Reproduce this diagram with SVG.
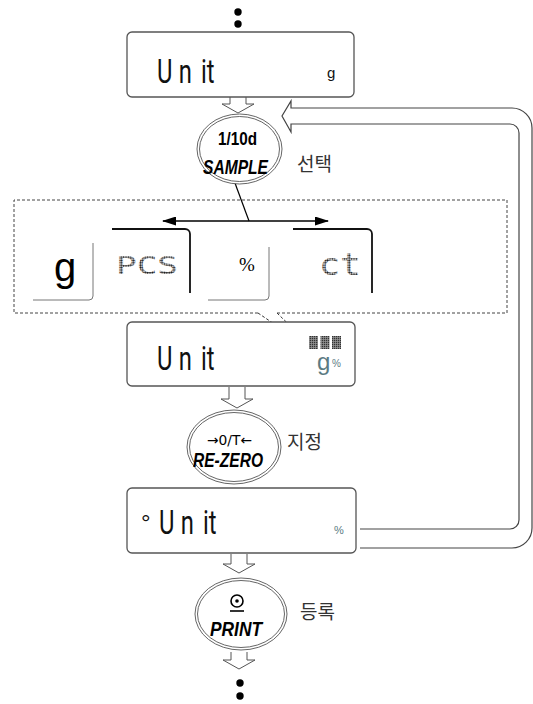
<svg xmlns="http://www.w3.org/2000/svg" width="533" height="704" viewBox="0 0 533 704">
<style>
.disp{fill:#fff;stroke:#555;stroke-width:1.3}
.seg{font-family:Roboto,"Liberation Sans",Arial,sans-serif;font-weight:400;font-size:34px;fill:#111}
.teal{font-family:"Liberation Sans",Arial,sans-serif;fill:#5b7b83}
.ell{fill:#fff;stroke:#555;stroke-width:0.9}
.ell2{fill:none;stroke:#555;stroke-width:0.9}
.btn{font-family:"Liberation Sans",Arial,sans-serif;font-weight:bold;fill:#000;text-anchor:middle}
.kr{font-family:"Noto Sans CJK KR","Noto Sans CJK SC",sans-serif;font-size:19px;fill:#333}
.harrow{fill:#fff;stroke:#555;stroke-width:1}
.dot{fill:#000}
.cardg{fill:none;stroke:#777;stroke-width:1}
.cardk{fill:none;stroke:#111;stroke-width:1.8}
.dm{font-family:"DejaVu Sans Mono","Liberation Mono",monospace;font-weight:normal;fill:url(#dots)}
</style>
<defs>
<pattern id="dots" patternUnits="userSpaceOnUse" width="2.4" height="2.4">
<circle cx="1.2" cy="1.2" r="1" fill="#111"/>
</pattern>
<pattern id="grid" patternUnits="userSpaceOnUse" width="2" height="2">
<rect width="2" height="2" fill="#999"/>
<rect width="1.3" height="1.3" fill="#333"/>
</pattern>
<marker id="ah" markerUnits="userSpaceOnUse" markerWidth="14" markerHeight="9" refX="13" refY="4.5" orient="auto-start-reverse">
<path d="M0,0 L14,4.5 L0,9 z" fill="#000"/>
</marker>
</defs>

<g id="dots-top">
<circle class="dot" cx="238" cy="12" r="3.7"/>
<circle class="dot" cx="238" cy="24" r="3.7"/>
</g>

<g id="connectors">
<path d="M360,548 H512 A20,20 0 0 0 532,528 V128 A20,20 0 0 0 512,108 H291 V101 L282,116 L291,132 V124 H510 A9,9 0 0 1 519,133 V520 A9,9 0 0 1 510,529 H360" fill="none" stroke="#444" stroke-width="1.2"/>
<path class="harrow" d="M230,97 V104 H222 L238,113 L254,104 H246 V97"/>
<path class="harrow" d="M229,387 V399 H221 L237,408 L253,399 H245 V387"/>
<path class="harrow" d="M231,554 V564 H223 L239,573 L255,564 H247 V554"/>
<path class="harrow" d="M231,652 V660 H223 L239,669 L255,660 H247 V652"/>
<line x1="163" y1="221" x2="328" y2="221" stroke="#000" stroke-width="1.5" marker-start="url(#ah)" marker-end="url(#ah)"/>
<line x1="232" y1="175" x2="249" y2="221" stroke="#000" stroke-width="1.2"/>
<line x1="258" y1="313" x2="308" y2="347" stroke="#333" stroke-width="1" stroke-dasharray="3,2"/>
<line x1="277" y1="313" x2="308" y2="343" stroke="#333" stroke-width="1" stroke-dasharray="3,2"/>
</g>

<g id="display-unit-g">
<rect class="disp" x="127" y="32" width="227" height="65" rx="5"/>
<text class="seg" transform="translate(157,83) scale(0.7,1)" x="0 31 63 71" y="0">Unit</text>
<text x="327" y="78" style="font-family:'Liberation Sans',Arial,sans-serif;font-size:15px;fill:#111">g</text>
</g>

<g id="btn-sample">
<ellipse class="ell" cx="239.5" cy="149" rx="42.5" ry="35"/>
<ellipse class="ell2" cx="239.5" cy="149" rx="40" ry="32.5"/>
<text class="btn" x="237.5" y="145" font-size="18" textLength="39" lengthAdjust="spacingAndGlyphs">1/10d</text>
<text class="btn" x="235.5" y="174" font-size="21" font-style="italic" textLength="65" lengthAdjust="spacingAndGlyphs">SAMPLE</text>
<text class="kr" x="297" y="171">선택</text>
</g>

<g id="unit-options">
<path d="M258,313 H14 V200 H507 V313 H277" fill="none" stroke="#444" stroke-width="1" stroke-dasharray="3,2"/>
<g id="opt-g">
<path class="cardg" d="M33,300 H89 A4,4 0 0 0 93,296 V243"/>
<text x="54" y="281" style="font-family:'Liberation Sans',Arial,sans-serif;font-size:40px;fill:#000">g</text>
</g>
<g id="opt-pcs">
<path class="cardk" d="M112,229 H185 A5,5 0 0 1 190,234 V293"/>
<text class="dm" x="116" y="274" font-size="24" textLength="62" lengthAdjust="spacingAndGlyphs">PCS</text>
</g>
<g id="opt-pct">
<path class="cardg" d="M208,300 H265 A4,4 0 0 0 269,296 V247"/>
<text x="239" y="271" style="font-family:'Liberation Serif','Times New Roman',serif;font-size:19px;fill:#000">%</text>
</g>
<g id="opt-ct">
<path class="cardk" d="M293,229 H367 A5,5 0 0 1 372,234 V293"/>
<text class="dm" x="319" y="275" font-size="30" textLength="42" lengthAdjust="spacingAndGlyphs">ct</text>
</g>
</g>

<g id="display-unit-sel">
<rect class="disp" x="127" y="322" width="228" height="64" rx="5"/>
<text class="seg" transform="translate(157,370) scale(0.7,1)" x="0 31 63 71" y="0">Unit</text>
<rect x="309" y="336" width="9" height="13" fill="url(#grid)"/>
<rect x="320.5" y="336" width="9" height="13" fill="url(#grid)"/>
<rect x="332" y="336" width="9" height="13" fill="url(#grid)"/>
<text class="teal" x="317" y="370" font-size="24">g</text>
<text class="teal" x="332" y="367" font-size="10">%</text>
</g>

<g id="btn-rezero">
<ellipse class="ell" cx="234" cy="447" rx="47" ry="37"/>
<ellipse class="ell2" cx="234" cy="447" rx="44.5" ry="34.5"/>
<text x="229.5" y="445" text-anchor="middle" style="font-family:'DejaVu Sans','Liberation Sans',sans-serif;font-size:14px;fill:#000" textLength="45" lengthAdjust="spacingAndGlyphs">→0/T←</text>
<text class="btn" x="228" y="467" font-size="20" font-style="italic" textLength="70" lengthAdjust="spacingAndGlyphs">RE-ZERO</text>
<text class="kr" x="287" y="449">지정</text>
</g>

<g id="display-unit-stored">
<rect class="disp" x="127" y="488" width="229" height="65" rx="5"/>
<text x="141" y="531" style="font-family:'Liberation Sans',Arial,sans-serif;font-size:24px;fill:#111">°</text>
<text class="seg" transform="translate(159,534) scale(0.7,1)" x="0 31 63 71" y="0">Unit</text>
<text class="teal" x="334" y="534" font-size="11">%</text>
</g>

<g id="btn-print">
<ellipse class="ell" cx="241" cy="614" rx="46" ry="36"/>
<ellipse class="ell2" cx="241" cy="614" rx="43.5" ry="33.5"/>
<circle cx="237" cy="601" r="6" fill="none" stroke="#000" stroke-width="1.6"/>
<circle cx="237" cy="601" r="1.8" fill="#000"/>
<line x1="230" y1="611" x2="244" y2="611" stroke="#000" stroke-width="1.6"/>
<text class="btn" x="236" y="636" font-size="21" font-style="italic" textLength="52" lengthAdjust="spacingAndGlyphs">PRINT</text>
<text class="kr" x="300" y="619">등록</text>
</g>

<g id="dots-bottom">
<circle class="dot" cx="240" cy="683" r="3.7"/>
<circle class="dot" cx="240" cy="696" r="3.7"/>
</g>
</svg>
